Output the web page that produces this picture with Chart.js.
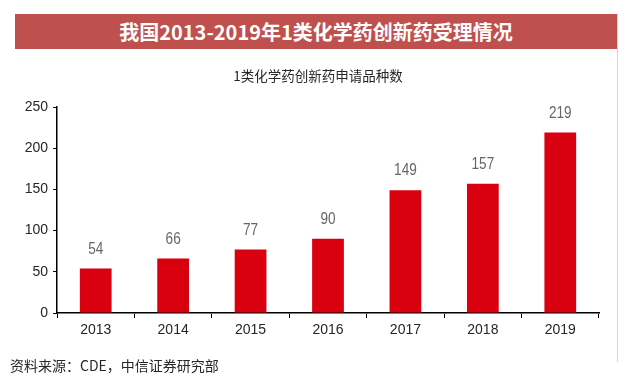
<!DOCTYPE html>
<html>
<head>
  <meta charset="utf-8">
  <title>1类化学药创新药受理情况</title>
  <script src="https://cdn.jsdelivr.net/npm/chart.js"></script>
  <style>
    body { margin: 0; background: #fff; font-family: "Noto Sans CJK SC", sans-serif; }
    #wrap { position: relative; width: 636px; height: 379px; }
    #banner {
      position: absolute; left: 15px; top: 14px; width: 602px; height: 35px;
      background: #c0504d; color: #fff; font-weight: bold; font-size: 20px;
      line-height: 35px; text-align: center;
    }
    #rline { position: absolute; left: 617px; top: 14px; width: 1px; height: 348px; background: #d4d4d4; }
    #sub { position: absolute; left: 0; width: 636px; top: 65px; text-align: center; font-size: 13.5px; color: #262626; }
    #src { position: absolute; left: 10px; top: 355px; font-size: 14px; color: #262626; }
    canvas { position: absolute; left: 0; top: 0; }
  </style>
</head>
<body>
<div id="wrap">
  <canvas id="barChart" width="636" height="379"></canvas>
  <div id="banner">我国2013-2019年1类化学药创新药受理情况</div>
  <div id="rline"></div>
  <div id="sub">1类化学药创新药申请品种数</div>
  <div id="src">资料来源：CDE，中信证券研究部</div>
</div>

<script>
const years = ['2013', '2014', '2015', '2016', '2017', '2018', '2019'];
const counts = [54, 66, 77, 90, 149, 157, 219];
const yTicks = [0, 50, 100, 150, 200, 250];

const numFont = '"Liberation Sans", Arial, sans-serif';

// value labels above bars, squeezed a bit like the narrow font in the original
const barLabels = {
  id: 'barLabels',
  afterDatasetsDraw(chart) {
    const ctx = chart.ctx;
    const meta = chart.getDatasetMeta(0);
    ctx.save();
    ctx.fillStyle = '#666666';
    ctx.font = '16px ' + numFont;
    ctx.textAlign = 'center';
    ctx.textBaseline = 'alphabetic';
    meta.data.forEach((bar, i) => {
      ctx.save();
      ctx.translate(bar.x, bar.y - 15);
      ctx.scale(0.85, 1);
      ctx.fillText(counts[i], 0, 0);
      ctx.restore();
    });
    ctx.restore();
  }
};

const ctx = document.getElementById('barChart').getContext('2d');
new Chart(ctx, {
  type: 'bar',
  data: {
    labels: years,
    datasets: [{
      data: counts,
      backgroundColor: '#d9000f',
      barPercentage: 0.41,
      categoryPercentage: 1.0
    }]
  },
  options: {
    responsive: false,
    animation: false,
    layout: { padding: { left: 0, right: 37, top: 107, bottom: 0 } },
    plugins: { legend: { display: false }, tooltip: { enabled: false } },
    scales: {
      x: {
        afterFit(scale) { scale.height = 66; },
        border: { color: '#000', width: 1.5 },
        grid: { drawOnChartArea: false, color: '#000', tickLength: 5, offset: true },
        ticks: { color: '#262626', font: { family: numFont, size: 14 }, padding: 4 }
      },
      y: {
        min: 0,
        max: 250,
        afterBuildTicks(scale) { scale.ticks = yTicks.map(v => ({ value: v })); },
        afterFit(scale) { scale.width = 57; },
        border: { color: '#000', width: 1.5 },
        grid: { drawOnChartArea: false, color: '#000', tickLength: 4 },
        ticks: { color: '#262626', font: { family: numFont, size: 14 }, padding: 5 }
      }
    }
  },
  plugins: [barLabels]
});
</script>
</body>
</html>
